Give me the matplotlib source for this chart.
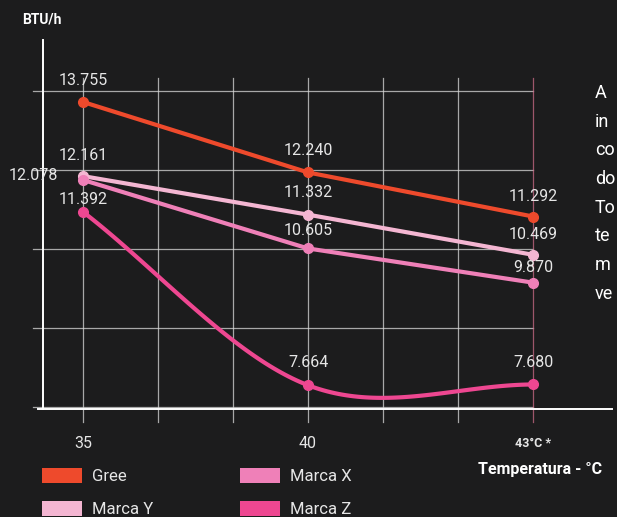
import numpy as np
import matplotlib
matplotlib.use('Agg')
import matplotlib.pyplot as plt
from matplotlib.patches import Patch

plt.rcParams['font.family'] = ['Roboto', 'DejaVu Sans']

# data (BTU/h at each outdoor temperature)
temps = ['35', '40', '43°C *']
series_names = ['Gree', 'Marca Y', 'Marca X', 'Marca Z']
gree = [13755, 12240, 11292]
marca_y = [12161, 11332, 10469]
marca_x = [12078, 10605, 9870]
marca_z = [11392, 7664, 7680]
side_text = ['A', 'in', 'co', 'do', 'To', 'te', 'm', 've']

colors = {'Gree': '#ee4a2c', 'Marca Y': '#f4b6d2', 'Marca X': '#ef80b8', 'Marca Z': '#ee4791'}
# label offsets in pixels (dx, dy) for each point
offsets = {
    'Gree': [(0, 21), (0, 22), (0, 20)],
    'Marca Y': [(0, 21), (0, 22), (0, 20)],
    'Marca X': [(-50, 4), (0, 18), (0, 15)],
    'Marca Z': [(0, 12), (0, 23), (0, 22)],
}

bg = '#1c1c1d'
txt = '#e6e6e6'


def fmt(v):
    return f'{v:,}'.replace(',', '.')


def smooth(xs, ys, n=60):
    # cubic hermite through the points, catmull-rom style tangents
    xs = np.asarray(xs, float)
    ys = np.asarray(ys, float)
    m = np.gradient(ys, xs)
    out_x, out_y = [], []
    for i in range(len(xs) - 1):
        h = xs[i + 1] - xs[i]
        u = np.linspace(0, 1, n)
        h00 = 2 * u ** 3 - 3 * u ** 2 + 1
        h10 = u ** 3 - 2 * u ** 2 + u
        h01 = -2 * u ** 3 + 3 * u ** 2
        h11 = u ** 3 - u ** 2
        out_x.append(xs[i] + u * h)
        out_y.append(h00 * ys[i] + h10 * h * m[i] + h01 * ys[i + 1] + h11 * h * m[i + 1])
    return np.concatenate(out_x), np.concatenate(out_y)


fig = plt.figure(figsize=(6.17, 5.17), dpi=100, facecolor=bg)
ax = fig.add_axes([0, 0, 1, 1])
ax.set_facecolor(bg)
ax.set_xlim(-0.3689, 2.3733)
ax.set_ylim(4830, 15948)
ax.axis('off')

x = np.arange(len(temps))

# grid
grid_y = [14000, 12300, 10600, 8900, 7200]
for gy in grid_y:
    ax.plot([-0.222, 2.0], [gy, gy], color='#d8d8d8', lw=0.9, alpha=0.75, zorder=1)
for gx in np.arange(0, 2.01, 1 / 3):
    c = '#c96a86' if gx > 1.99 else '#d8d8d8'
    ax.plot([gx, gx], [6870, 14270], color=c, lw=0.9, alpha=0.75, zorder=1)

# axes lines
ax.plot([-0.178, -0.178], [7150, 15088], color='white', lw=1.4, zorder=2)
ax.plot([-0.2, 2.35], [7150, 7150], color='white', lw=1.4, zorder=2)

data = {'Gree': gree, 'Marca Y': marca_y, 'Marca X': marca_x, 'Marca Z': marca_z}
for name in series_names:
    vals = data[name]
    if name == 'Marca Z':
        xx, yy = smooth(x, vals)
        ax.plot(xx, yy, color=colors[name], lw=3, solid_capstyle='round', zorder=3)
    else:
        ax.plot(x, vals, color=colors[name], lw=3, zorder=3)
    ax.plot(x, vals, 'o', color=colors[name], ms=7, zorder=4)
    for xi, v, off in zip(x, vals, offsets[name]):
        ax.annotate(fmt(v), (xi, v), xytext=off, textcoords='offset pixels',
                    ha='center', va='center', color=txt, fontsize=11.5, zorder=5)

# x tick labels
for xi, t in zip(x, temps):
    if xi == 2:
        ax.text(xi, 6420, t, ha='center', va='center', color=txt, fontsize=9,
                fontweight='bold')
    else:
        ax.text(xi, 6420, t, ha='center', va='center', color=txt, fontsize=11.5)

ax.text(-0.2711, 15518, 'BTU/h', ha='left', va='center', color='white',
        fontsize=10, fontweight='bold')
ax.text(1.755, 5841, 'Temperatura - °C', ha='left', va='center', color='white',
        fontsize=11.5, fontweight='bold')

# cropped paragraph on the right edge
for i, s in enumerate(side_text):
    ax.text(2.275, 13950 - i * 617, s, ha='left', va='center', color='white',
            fontsize=13)

handles = [Patch(facecolor=colors[n], edgecolor='none') for n in series_names]
leg = fig.legend(handles, series_names, ncol=2, loc='upper left',
                 bbox_to_anchor=(42 / 617, 1 - 468 / 517), frameon=False,
                 fontsize=12, handlelength=2.4, handleheight=1.0,
                 handletextpad=0.6, columnspacing=5.2, labelspacing=1.0,
                 borderpad=0, borderaxespad=0)
for t in leg.get_texts():
    t.set_color(txt)

fig.savefig('out.png', dpi=100, facecolor=bg)
